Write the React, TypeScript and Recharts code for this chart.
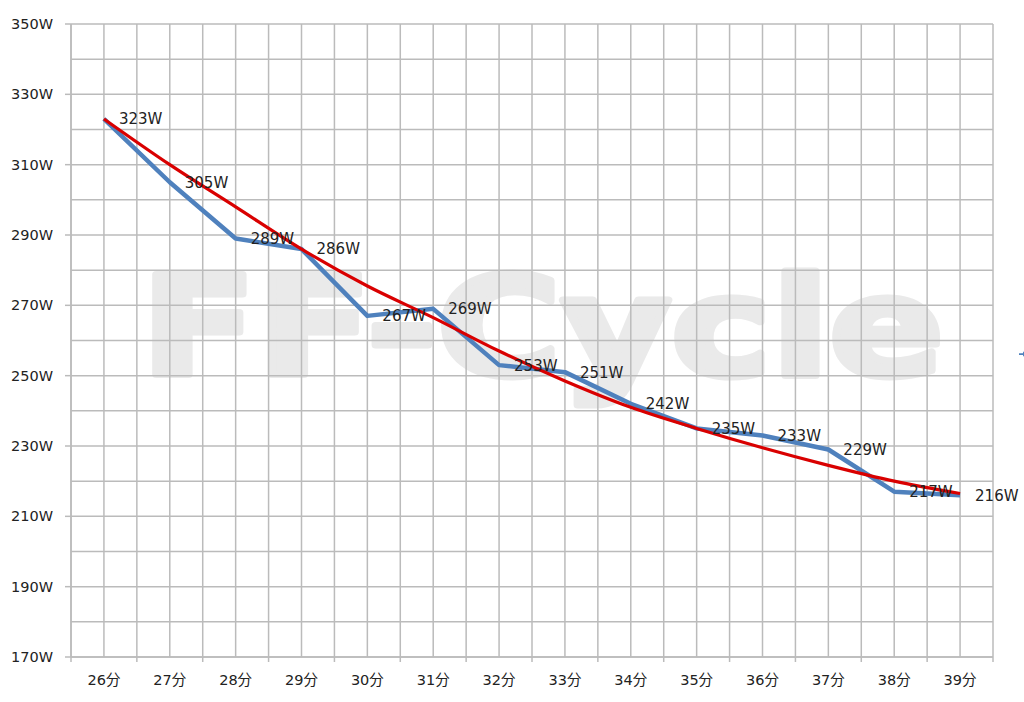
import React from "react";
import { CartesianGrid, Legend, LabelList, Line, LineChart, XAxis, YAxis } from "recharts";

// 計測値（分ごとの平均パワー）と近似曲線
const MINUTES = [26, 27, 28, 29, 30, 31, 32, 33, 34, 35, 36, 37, 38, 39];
const POWER = [323, 305, 289, 286, 267, 269, 253, 251, 242, 235, 233, 229, 217, 216];
const TREND = [323, 310, 298, 286, 275.5, 266.5, 257, 248.5, 241, 235, 229.5, 224.5, 220, 216.5];

const Y_LABEL_TICKS = [170, 190, 210, 230, 250, 270, 290, 310, 330, 350];
const Y_GRID = [170, 180, 190, 200, 210, 220, 230, 240, 250, 260, 270, 280, 290, 300, 310, 320, 330, 340, 350];

const BLUE = "#4F81BD";
const RED = "#D90000";
const GRID = "#BBBBBB";
const FONT = '"DejaVu Sans", "Noto Sans CJK JP", sans-serif';

const rows = MINUTES.map((m, i) => ({ min: m, power: POWER[i], trend: TREND[i] }));

// 目盛り：分の中心にラベル、区切りに目盛り線
const bounds = [...MINUTES.map((m) => m - 0.5), MINUTES[MINUTES.length - 1] + 0.5];
const xTicks = [...bounds, ...MINUTES].sort((a, b) => a - b);

function MinuteTick(props: any) {
  const { x, y, payload } = props;
  const v = payload.value as number;
  if (Number.isInteger(v)) {
    return (
      <text x={x} y={y + 28} textAnchor="middle" fontSize={14.5} fontFamily={FONT} fill="#222">
        {`${v}分`}
      </text>
    );
  }
  return <line x1={x} x2={x} y1={y} y2={y + 5} stroke={GRID} strokeWidth={1.5} />;
}

function PowerLabel(props: any) {
  const { x, y, value } = props;
  return (
    <text x={x + 15} y={y} dy="0.36em" fontSize={15} fontFamily={FONT} fill="#222">
      {`${value}W`}
    </text>
  );
}

export default function App() {
  return (
    <div style={{ position: "absolute", left: 0, top: 0, width: 1024, height: 702, overflow: "hidden", background: "#fff" }}>
      <svg width={1024} height={702} style={{ position: "absolute", left: 0, top: 0 }}>
        <text
          x={141}
          y={375}
          fontSize={138}
          fontWeight={900}
          fontFamily='"DejaVu Sans", sans-serif'
          fill="#EAEAEA"
          stroke="#EAEAEA"
          strokeWidth={7}
          strokeLinejoin="round"
          textLength={803}
          lengthAdjust="spacingAndGlyphs"
        >
          FF-Cycle
        </text>
      </svg>
      <div style={{ position: "absolute", left: 0, top: 0 }}>
        <LineChart width={1024} height={702} data={rows} margin={{ top: 24, right: 31, bottom: 0, left: 0 }}>
          <CartesianGrid
            horizontalValues={Y_GRID}
            verticalValues={bounds.concat(MINUTES)}
            stroke={GRID}
            strokeWidth={1.5}
          />
          <XAxis
            dataKey="min"
            type="number"
            domain={[25.5, 39.5]}
            ticks={xTicks}
            interval={0}
            height={45}
            tickSize={0}
            tickMargin={0}
            tickLine={false}
            tick={<MinuteTick />}
            axisLine={{ stroke: GRID, strokeWidth: 1.5 }}
          />
          <YAxis
            domain={[170, 350]}
            ticks={Y_LABEL_TICKS}
            interval={0}
            width={71}
            tickSize={6}
            tickMargin={12}
            tick={{ fontSize: 14.5, fontFamily: FONT, fill: "#222" }}
            tickFormatter={(v: number) => `${v}W`}
            tickLine={{ stroke: GRID, strokeWidth: 1.5 }}
            axisLine={{ stroke: GRID, strokeWidth: 1.5 }}
          />
          <Legend
            layout="horizontal"
            verticalAlign="middle"
            align="right"
            formatter={() => ""}
            wrapperStyle={{ left: 1019, top: 344, width: 0, height: 0, overflow: "visible", whiteSpace: "nowrap" }}
          />
          <Line
            dataKey="power"
            name="パワー"
            type="linear"
            stroke={BLUE}
            strokeWidth={4.5}
            strokeLinejoin="round"
            dot={false}
            activeDot={false}
            isAnimationActive={false}
          >
            <LabelList dataKey="power" content={<PowerLabel />} />
          </Line>
          <Line
            dataKey="trend"
            name="近似曲線"
            type="monotone"
            stroke={RED}
            strokeWidth={3.2}
            dot={false}
            activeDot={false}
            legendType="none"
            isAnimationActive={false}
          />
        </LineChart>
      </div>
    </div>
  );
}
